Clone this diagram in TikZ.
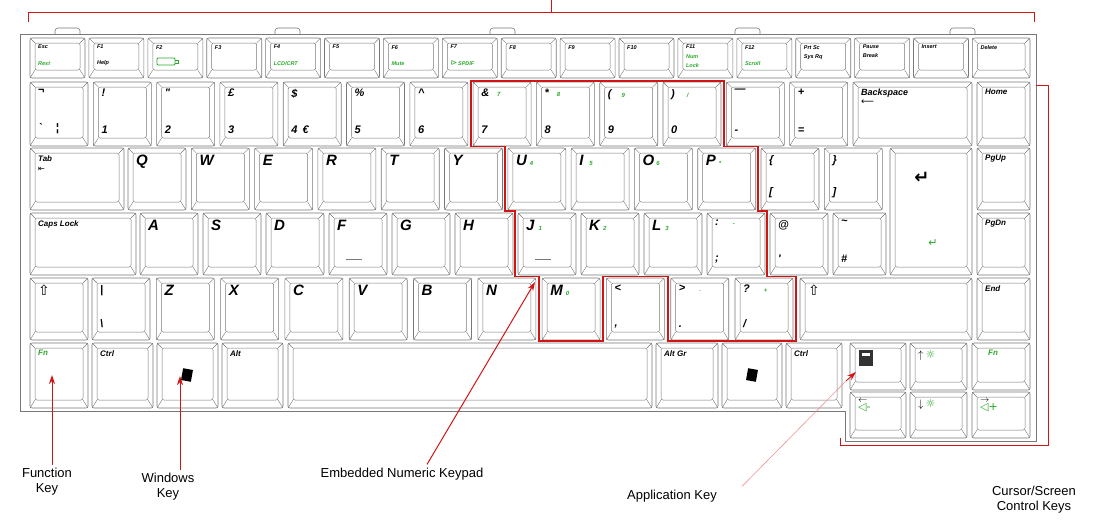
\documentclass[tikz,border=0pt]{standalone}
\usepackage{fontspec}
\setmainfont{Liberation Sans}
\newfontfamily\kf{Liberation Sans}[UprightFont=* Bold Italic]
\newfontfamily\djv{DejaVu Sans}
\usetikzlibrary{calc,arrows.meta}
\definecolor{kg}{RGB}{120,120,120}
\definecolor{gr}{RGB}{40,170,40}
\definecolor{rd}{RGB}{210,20,20}
\tikzset{
 keyb/.style={draw=kg,line width=0.6pt,rounded corners=2pt,inner sep=0,outer sep=0},
 keyin/.style={draw=kg,line width=0.5pt,rounded corners=2pt},
 kt/.style={inner sep=0,font=\kf\fontsize{11}{11}\selectfont},
 lbl/.style={font=\fontsize{13}{15}\selectfont,align=center},
 redarr/.style={draw=rd,line width=1pt,-{Stealth[length=9pt,width=6pt]}},
}
\newcommand\g[1]{{\color{gr}\fontsize{6}{6}\selectfont #1}}
\newcommand\sm{\fontsize{5.5}{6}\selectfont}
\newcommand\K[7]{%
 \node[keyb,minimum width={#4-#2},minimum height={#5-#3}] (#1) at ({(#2+#4)/2},{(#3+#5)/2}) {};
 \draw[keyin] ($(#1.north west)+(5,5)$) rectangle ($(#1.south east)+(-5,-8)$);
 \draw[kg,line width=0.4pt] (#1.north west)--($(#1.north west)+(5,5)$) (#1.north east)--($(#1.north east)+(-5,5)$)
  (#1.south west)--($(#1.south west)+(5,-8)$) (#1.south east)--($(#1.south east)+(-5,-8)$);
 \node[kt,anchor=north west,align=left] at ($(#1.north west)+(8,7)$) {#6};
 \node[kt,anchor=south west] at ($(#1.south west)+(8,-12)$) {#7};
}
\newcommand\FK[4]{\K{#1}{#2}{38}{#2+55}{78}{\sm #3}{\sm #4}}
\newcommand\NK[4]{\K{#1}{#2}{82}{#2+58}{146}{#3}{#4}}
\newcommand\QK[3]{\K{#1}{#2}{148}{#2+58}{210}{\fontsize{15}{15}\selectfont #3}{}}
\newcommand\AK[3]{\K{#1}{#2}{213}{#2+58}{275}{\fontsize{15}{15}\selectfont #3}{}}
\newcommand\ZK[3]{\K{#1}{#2}{278}{#2+58}{340}{\fontsize{15}{15}\selectfont #3}{}}
\begin{document}
\begin{tikzpicture}[x=1pt,y=-1pt]
\useasboundingbox (0,0) rectangle (1104,523);
% outer case
\draw[kg,line width=0.8pt] (20,34)--(1036,34)--(1036,441)--(845,441)--(845,411)--(20,411)--cycle;
\foreach \tx in {55,275,490,735,950}{\draw[kg,line width=0.6pt,rounded corners=3pt] (\tx,34)--(\tx,28)--(\tx+25,28)--(\tx+25,34);}
% F row
\FK{esc}{30}{Esc}{\color{gr}Rest}
\FK{f1}{88.9}{F1}{Help}
\FK{f2}{147.8}{F2}{}
\draw[gr,line width=0.8pt,rounded corners=1pt] (157,58) rectangle (175,65); \draw[gr,line width=0.8pt] (175,60)--(178,60)--(178,63)--(175,63);
\FK{f3}{206.7}{F3}{}
\FK{f4}{265.6}{F4}{\color{gr}LCD/CRT}
\FK{f5}{324.5}{F5}{}
\FK{f6}{383.4}{F6}{\color{gr}Mute}
\FK{f7}{442.3}{F7}{\color{gr}{\djv\fontsize{8}{8}\selectfont ⊳}\,SPDIF}
\FK{f8}{501.2}{F8}{}
\FK{f9}{560.1}{F9}{}
\FK{f10}{619}{F10}{}
\FK{f11}{677.9}{F11\\[-1pt]\sm\color{gr}Num\\[-2pt]\sm\color{gr}Lock}{}
\FK{f12}{736.8}{F12}{\color{gr}Scroll}
\FK{prt}{795.7}{Prt Sc\\[-2pt]\sm Sys Rq}{}
\FK{pause}{854.6}{Pause\\[-2pt]\sm Break}{}
\FK{ins}{913.5}{Insert}{}
\K{del}{972.4}{38}{1030}{78}{\sm Delete}{}
% number row
\NK{ka}{30}{¬}{`\hspace{14pt}¦}
\NK{k1}{93.3}{!}{1}
\NK{k2}{156.6}{"}{2}
\NK{k3}{219.9}{£}{3}
\NK{k4}{283.2}{\$}{4\hspace{5pt}€}
\NK{k5}{346.5}{\%}{5}
\NK{k6}{409.8}{\^{}}{6}
\NK{k7}{473.1}{\&\hspace{8pt}\g{7}}{7}
\NK{k8}{536.4}{*\hspace{8pt}\g{8}}{8}
\NK{k9}{599.7}{(\hspace{10pt}\g{9}}{9}
\NK{k0}{663}{)\hspace{12pt}\g{/}}{0}
\NK{kmin}{726.3}{—}{-}
\NK{keq}{789.6}{+}{=}
\K{bksp}{853}{82}{972}{146}{\fontsize{9}{9}\selectfont Backspace\\[-2pt]\djv\fontsize{9}{9}\selectfont ⟵}{}
\K{home}{977}{82}{1030}{146}{\fontsize{8}{8}\selectfont Home}{}
% Q row
\K{tab}{30}{148}{124}{210}{\fontsize{8}{8}\selectfont Tab\\[-1pt]\djv\fontsize{8}{8}\selectfont ⇤}{}
\QK{q}{128}{Q}
\QK{w}{191.3}{W}
\QK{e}{254.6}{E}
\QK{r}{317.9}{R}
\QK{t}{381.2}{T}
\QK{y}{444.5}{Y}
\QK{u}{507.8}{U\hspace{3pt}\g{4}}
\QK{i}{571.1}{I\hspace{6pt}\g{5}}
\QK{o}{634.4}{O\hspace{2pt}\g{6}}
\QK{p}{697.7}{P\hspace{3pt}\g{*}}
\K{lbr}{761}{148}{819}{210}{\{}{[}
\K{rbr}{824.3}{148}{882.3}{210}{\}}{]}
\K{enter}{890}{148}{972}{275}{}{}
\node[inner sep=0,font=\djv\bfseries\fontsize{18}{18}\selectfont] (entsym) at (922,178) {↵};
\node[inner sep=0,text=gr,font=\djv\fontsize{11}{11}\selectfont] (entsym2) at (933,243) {↵};
\K{pgup}{977}{148}{1030}{210}{\fontsize{8}{8}\selectfont PgUp}{}
% A row
\K{caps}{30}{213}{136}{275}{\fontsize{8}{8}\selectfont Caps Lock}{}
\AK{a}{140}{A}
\AK{s}{203}{S}
\AK{d}{266}{D}
\AK{f}{329}{F}
\AK{g}{392}{G}
\AK{h}{455}{H}
\AK{j}{518}{J\hspace{4pt}\g{1}}
\AK{k}{581}{K\hspace{3pt}\g{2}}
\AK{l}{644}{L\hspace{4pt}\g{3}}
\K{semi}{707}{213}{765}{275}{:\hspace{14pt}\g{-}}{;}
\K{apos}{770}{213}{828}{275}{@}{'}
\K{hash}{833}{213}{886}{275}{\textasciitilde}{\#}
\draw[kg,line width=0.7pt] (346,259)--(362,259) (535,259)--(551,259);
\K{pgdn}{977}{213}{1030}{275}{\fontsize{8}{8}\selectfont PgDn}{}
% Z row
\K{lsh}{30}{278}{88}{340}{\djv\fontsize{14}{14}\selectfont ⇧}{}
\K{bsl}{92}{278}{150}{340}{|}{\textbackslash}
\ZK{z}{156.3}{Z}
\ZK{x}{220.6}{X}
\ZK{c}{284.9}{C}
\ZK{v}{349.2}{V}
\ZK{b}{413.5}{B}
\ZK{n}{477.8}{N}
\ZK{m}{542.1}{M\hspace{3pt}\g{0}}
\K{lt}{606.4}{278}{664.4}{340}{<}{,}
\K{gt}{670.7}{278}{728.7}{340}{>\hspace{14pt}\g{.}}{.}
\K{qm}{735}{278}{793}{340}{?\hspace{14pt}\g{+}}{/}
\K{rsh}{800}{278}{972}{340}{\djv\fontsize{14}{14}\selectfont ⇧}{}
\K{end}{977}{278}{1030}{340}{\fontsize{8}{8}\selectfont End}{}
% bottom row
\K{fn}{30}{343}{88}{408}{\fontsize{8}{8}\selectfont\color{gr}Fn}{}
\K{ctrl}{92}{343}{153}{408}{\fontsize{8}{8}\selectfont Ctrl}{}
\K{win}{157}{343}{218}{408}{}{}
\K{alt}{222}{343}{283}{408}{\fontsize{8}{8}\selectfont Alt}{}
\K{space}{288}{343}{652}{408}{}{}
\K{altgr}{656}{343}{718}{408}{\fontsize{8}{8}\selectfont Alt Gr}{}
\K{win2}{722}{343}{782}{408}{}{}
\K{rctrl}{786}{343}{842}{408}{\fontsize{8}{8}\selectfont Ctrl}{}
\foreach \wx in {187,752}{\fill[black,rotate around={-10:(\wx,375)}] (\wx-5,369) rectangle (\wx+5,381);}
\K{app}{850}{343}{906}{390}{}{}
\fill[black!80] (859,350) rectangle (873,366); \fill[white] (862,353) rectangle (870,356);
\K{up}{910}{343}{967}{390}{\fontsize{11}{11}\selectfont$\uparrow$\,\color{gr}\djv ☼}{}
\K{fn2}{972}{343}{1030}{390}{\fontsize{8}{8}\selectfont\color{gr}\hspace{8pt}Fn}{}
\K{left}{850}{392}{906}{438}{\fontsize{9}{9}\selectfont$\leftarrow$\\[-3pt]\color{gr}\djv ◁-}{}
\K{down}{910}{392}{967}{438}{\fontsize{11}{11}\selectfont$\downarrow$\,\color{gr}\djv ☼}{}
\K{right}{972}{392}{1030}{438}{\fontsize{9}{9}\selectfont$\rightarrow$\\[-3pt]\color{gr}\djv ◁+}{}
% embedded keypad outline
\draw[rd,line width=1.6pt] (471,81)--(724,81)--(724,146.5)--(758,146.5)--(758,211)--(767,211)--(767,276.5)--(796,276.5)--(796,341)--(668,341)--(668,276.5)--(603,276.5)--(603,341)--(539,341)--(539,276.5)--(515,276.5)--(515,211)--(505,211)--(505,146.5)--(471,146.5)--cycle;
% brackets
\draw[rd,line width=0.6pt] (28,22)--(28,12)--(1034,12)--(1034,22) (551,0)--(551,12);
\draw[rd,line width=0.6pt] (1036,85)--(1048,85)--(1048,445)--(840,445)--(840,438);
% labels
\node[lbl] (lfn) at (47,482) {Function\\Key};
\node[lbl] (lwin) at (168,487) {Windows\\Key};
\node[lbl] (lemb) at (402,474) {Embedded Numeric Keypad};
\node[lbl] (lapp) at (672,496) {Application Key};
\node[lbl] (lcur) at (1034,500) {Cursor/Screen\\Control Keys};
\coordinate (afn) at (52,375);
\coordinate (awin) at (180,376);
\coordinate (aemb) at (535,282);
\coordinate (aapp) at (856,372);
\draw[redarr] (lfn.north -| afn) -- (afn);
\draw[redarr] (lwin.north -| awin) -- (awin);
\draw[redarr] ($(lemb.north)+(25,0)$) -- (aemb);
\draw[draw=rd!45,line width=0.6pt] ($(lapp.north)+(70,0)$) -- ($(aapp)+(-8,7)$);
\draw[redarr,line width=0.8pt] ($(aapp)+(-10,9)$) -- (aapp);
\end{tikzpicture}
\end{document}
